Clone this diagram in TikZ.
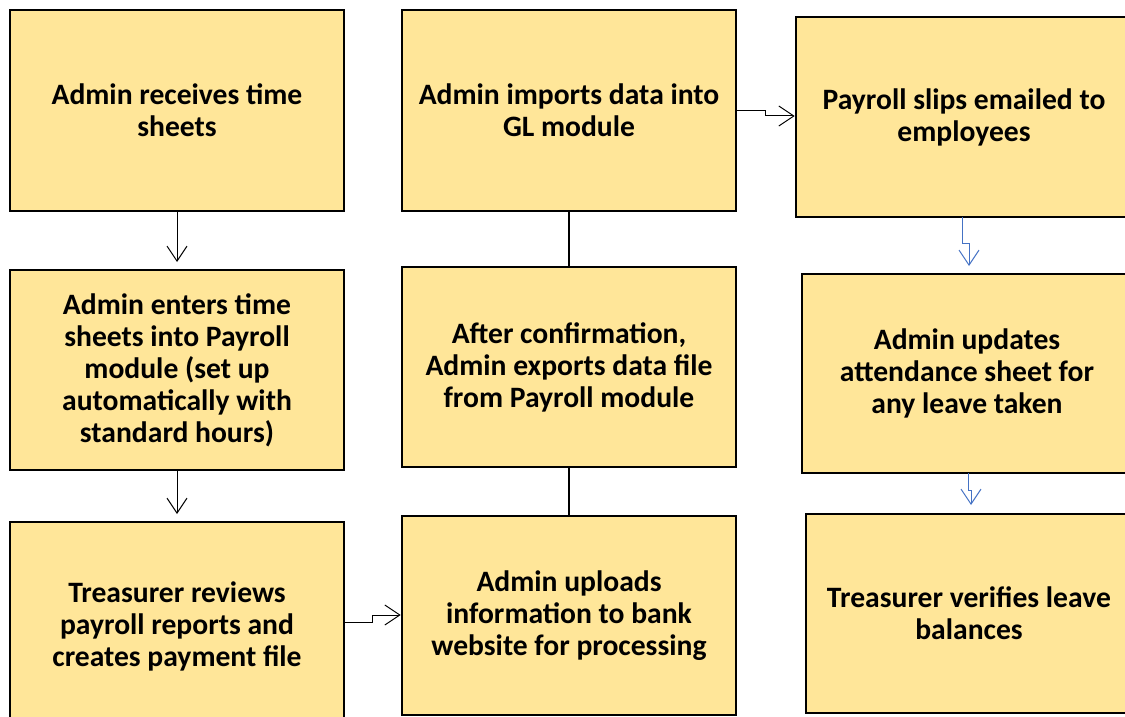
\documentclass[tikz,border=0pt]{standalone}
\usepackage{fontspec}
\setmainfont{Carlito}
\usetikzlibrary{arrows.meta}

\definecolor{boxfill}{HTML}{FFE699}
\definecolor{flowblue}{HTML}{4472C4}

\tikzset{
  stepbox/.style={draw=black, line width=1.3pt, fill=boxfill, rectangle,
    inner sep=0pt, align=center, font=\bfseries\fontsize{14.8}{16}\selectfont},
  flow/.style={line width=0.5pt, -{Straight Barb[length=7.5pt,width=10pt,line width=0.5pt]}},
  link/.style={line width=0.55pt}
}

\begin{document}
\begin{tikzpicture}[x=0.5pt,y=-0.5pt]
  \useasboundingbox (0,0) rectangle (1125,717);

  % left column
  \node[stepbox, minimum width=167pt, minimum height=100.5pt] (receive) at (177,110.5)
    {Admin receives time\\sheets};
  \node[stepbox, minimum width=167pt, minimum height=100pt] (enter) at (177,370)
    {Admin enters time\\sheets into Payroll\\module (set up\\automatically with\\standard hours)};
  \node[stepbox, minimum width=167pt, minimum height=104pt] (review) at (177,626)
    {Treasurer reviews\\payroll reports and\\creates payment file};

  % middle column
  \node[stepbox, minimum width=167pt, minimum height=100.5pt] (import) at (569,110.5)
    {Admin imports data into\\GL module};
  \node[stepbox, minimum width=167pt, minimum height=100pt] (export) at (569,367)
    {After confirmation,\\Admin exports data file\\from Payroll module};
  \node[stepbox, minimum width=167pt, minimum height=99.5pt] (upload) at (569,615.5)
    {Admin uploads\\information to bank\\website for processing};

  % right column (runs off the page edge)
  \node[stepbox, minimum width=168pt, minimum height=100pt] (slips) at (964,117)
    {Payroll slips emailed to\\employees};
  \node[stepbox, minimum width=165pt, minimum height=99.5pt] (attend) at (967,373.5)
    {Admin updates\\attendance sheet for\\any leave taken};
  \node[stepbox, minimum width=163pt, minimum height=99.5pt] (verify) at (969,613.5)
    {Treasurer verifies leave\\balances};

  \coordinate (tipB) at (177,262);
  \coordinate (tipC) at (177,514);

  % connectors
  \draw[flow] (receive.south) -- (tipB);
  \draw[flow] (enter.south) -- (tipC);
  \draw[flow] (review.east |- 0,622) -- (372,622) -- (372,615) -- (upload.west |- 0,615);
  \draw[flow] (import.east |- 0,111) -- (765,111) -- (765,116) -- (slips.west |- 0,116);
  \draw[link] (import.south) -- (export.north);
  \draw[link] (export.south) -- (upload.north);
  \draw[flow, flowblue] (962,217) -- (962,243) -- (969,243) -- (969,266);
  \draw[flow, flowblue] (968,473) -- (968,490) -- (971,490) -- (971,505);
\end{tikzpicture}
\end{document}
